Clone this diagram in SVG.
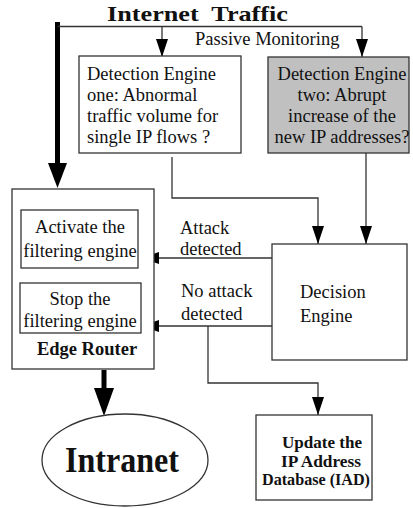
<svg xmlns="http://www.w3.org/2000/svg" width="413" height="508" viewBox="0 0 413 508">
<style>
.t{font-family:"Liberation Serif","Times New Roman",serif;font-size:18.5px;fill:#111}
.b{font-weight:bold}
.box{fill:#fff;stroke:#333;stroke-width:1.3}
.ln{fill:none;stroke:#333;stroke-width:1.3}
.iad{font-size:16px}
</style>
<defs>
<marker id="ah" markerUnits="userSpaceOnUse" viewBox="0 0 18 12" refX="18" refY="6" markerWidth="18" markerHeight="12" orient="auto">
<path d="M0,0 L18,6 L0,12 z" fill="#000"/>
</marker>
</defs>
<rect width="413" height="508" fill="#fff"/>
<text class="t b" x="107" y="20.5" xml:space="preserve" textLength="181" lengthAdjust="spacingAndGlyphs" style="font-size:22px">Internet  Traffic</text>
<text class="t" x="195" y="45">Passive Monitoring</text>

<g id="connectors">
<line x1="57.5" y1="22" x2="57.5" y2="166" stroke="#000" stroke-width="5"/>
<polygon points="48,163 67,163 57.5,188" fill="#000"/>
<path class="ln" d="M57.5,26.5 H362"/>
<path class="ln" d="M162,26.5 V57" marker-end="url(#ah)"/>
<path class="ln" d="M362,26.5 V57" marker-end="url(#ah)"/>
<path class="ln" d="M172,157 V198 H318 V244" marker-end="url(#ah)"/>
<path class="ln" d="M366,153 V244" marker-end="url(#ah)"/>
<path class="ln" d="M272,258 H141" marker-end="url(#ah)"/>
<path class="ln" d="M272,326 H141" marker-end="url(#ah)"/>
<path class="ln" d="M208,326 V383 H318 V415" marker-end="url(#ah)"/>
<line x1="104" y1="370" x2="104" y2="391" stroke="#000" stroke-width="5"/>
<polygon points="94,388 114,388 104,416" fill="#000"/>
<text class="t" x="180" y="234">Attack</text>
<text class="t" x="180" y="255">detected</text>
<text class="t" x="181" y="297">No attack</text>
<text class="t" x="181" y="320">detected</text>
</g>

<g id="detection-one">
<rect class="box" x="79" y="56" width="162" height="97"/>
<text class="t" x="87" y="80">Detection Engine</text>
<text class="t" x="87" y="101">one: Abnormal</text>
<text class="t" x="87" y="122">traffic volume for</text>
<text class="t" x="87" y="143">single IP flows ?</text>
</g>

<g id="detection-two">
<rect class="box" x="268" y="57" width="141" height="96" style="fill:#c0c0c0"/>
<text class="t" x="342" y="80" text-anchor="middle">Detection Engine</text>
<text class="t" x="342" y="101" text-anchor="middle">two: Abrupt</text>
<text class="t" x="342" y="122" text-anchor="middle">increase of the</text>
<text class="t" x="342" y="143" text-anchor="middle">new IP addresses?</text>
</g>

<g id="edge-router">
<rect class="box" x="12" y="189" width="142" height="180"/>
<text class="t b" x="87" y="355" text-anchor="middle">Edge Router</text>
</g>

<g id="activate">
<rect class="box" x="21" y="210" width="117" height="58"/>
<text class="t" x="80" y="233" text-anchor="middle">Activate the</text>
<text class="t" x="80" y="257" text-anchor="middle">filtering engine</text>
</g>

<g id="stop">
<rect class="box" x="20" y="283" width="121" height="50"/>
<text class="t" x="80" y="305" text-anchor="middle">Stop the</text>
<text class="t" x="80" y="327" text-anchor="middle">filtering engine</text>
</g>

<g id="decision">
<rect class="box" x="272" y="244" width="135" height="116"/>
<text class="t" x="300" y="298">Decision</text>
<text class="t" x="300" y="322">Engine</text>
</g>

<g id="intranet">
<ellipse class="box" cx="125" cy="460" rx="83" ry="46"/>
<text class="t b" x="65" y="472" textLength="114" lengthAdjust="spacingAndGlyphs" style="font-size:35px">Intranet</text>
</g>

<g id="iad">
<rect class="box" x="256" y="415" width="116" height="85"/>
<text class="t b iad" x="322" y="448" text-anchor="middle" textLength="80" lengthAdjust="spacingAndGlyphs" style="font-size:16px">Update the</text>
<text class="t b iad" x="321" y="466.5" text-anchor="middle" textLength="80" lengthAdjust="spacingAndGlyphs" style="font-size:16px">IP Address</text>
<text class="t b iad" x="316" y="485" text-anchor="middle" textLength="108" lengthAdjust="spacingAndGlyphs" style="font-size:16px">Database (IAD)</text>
</g>
</svg>
